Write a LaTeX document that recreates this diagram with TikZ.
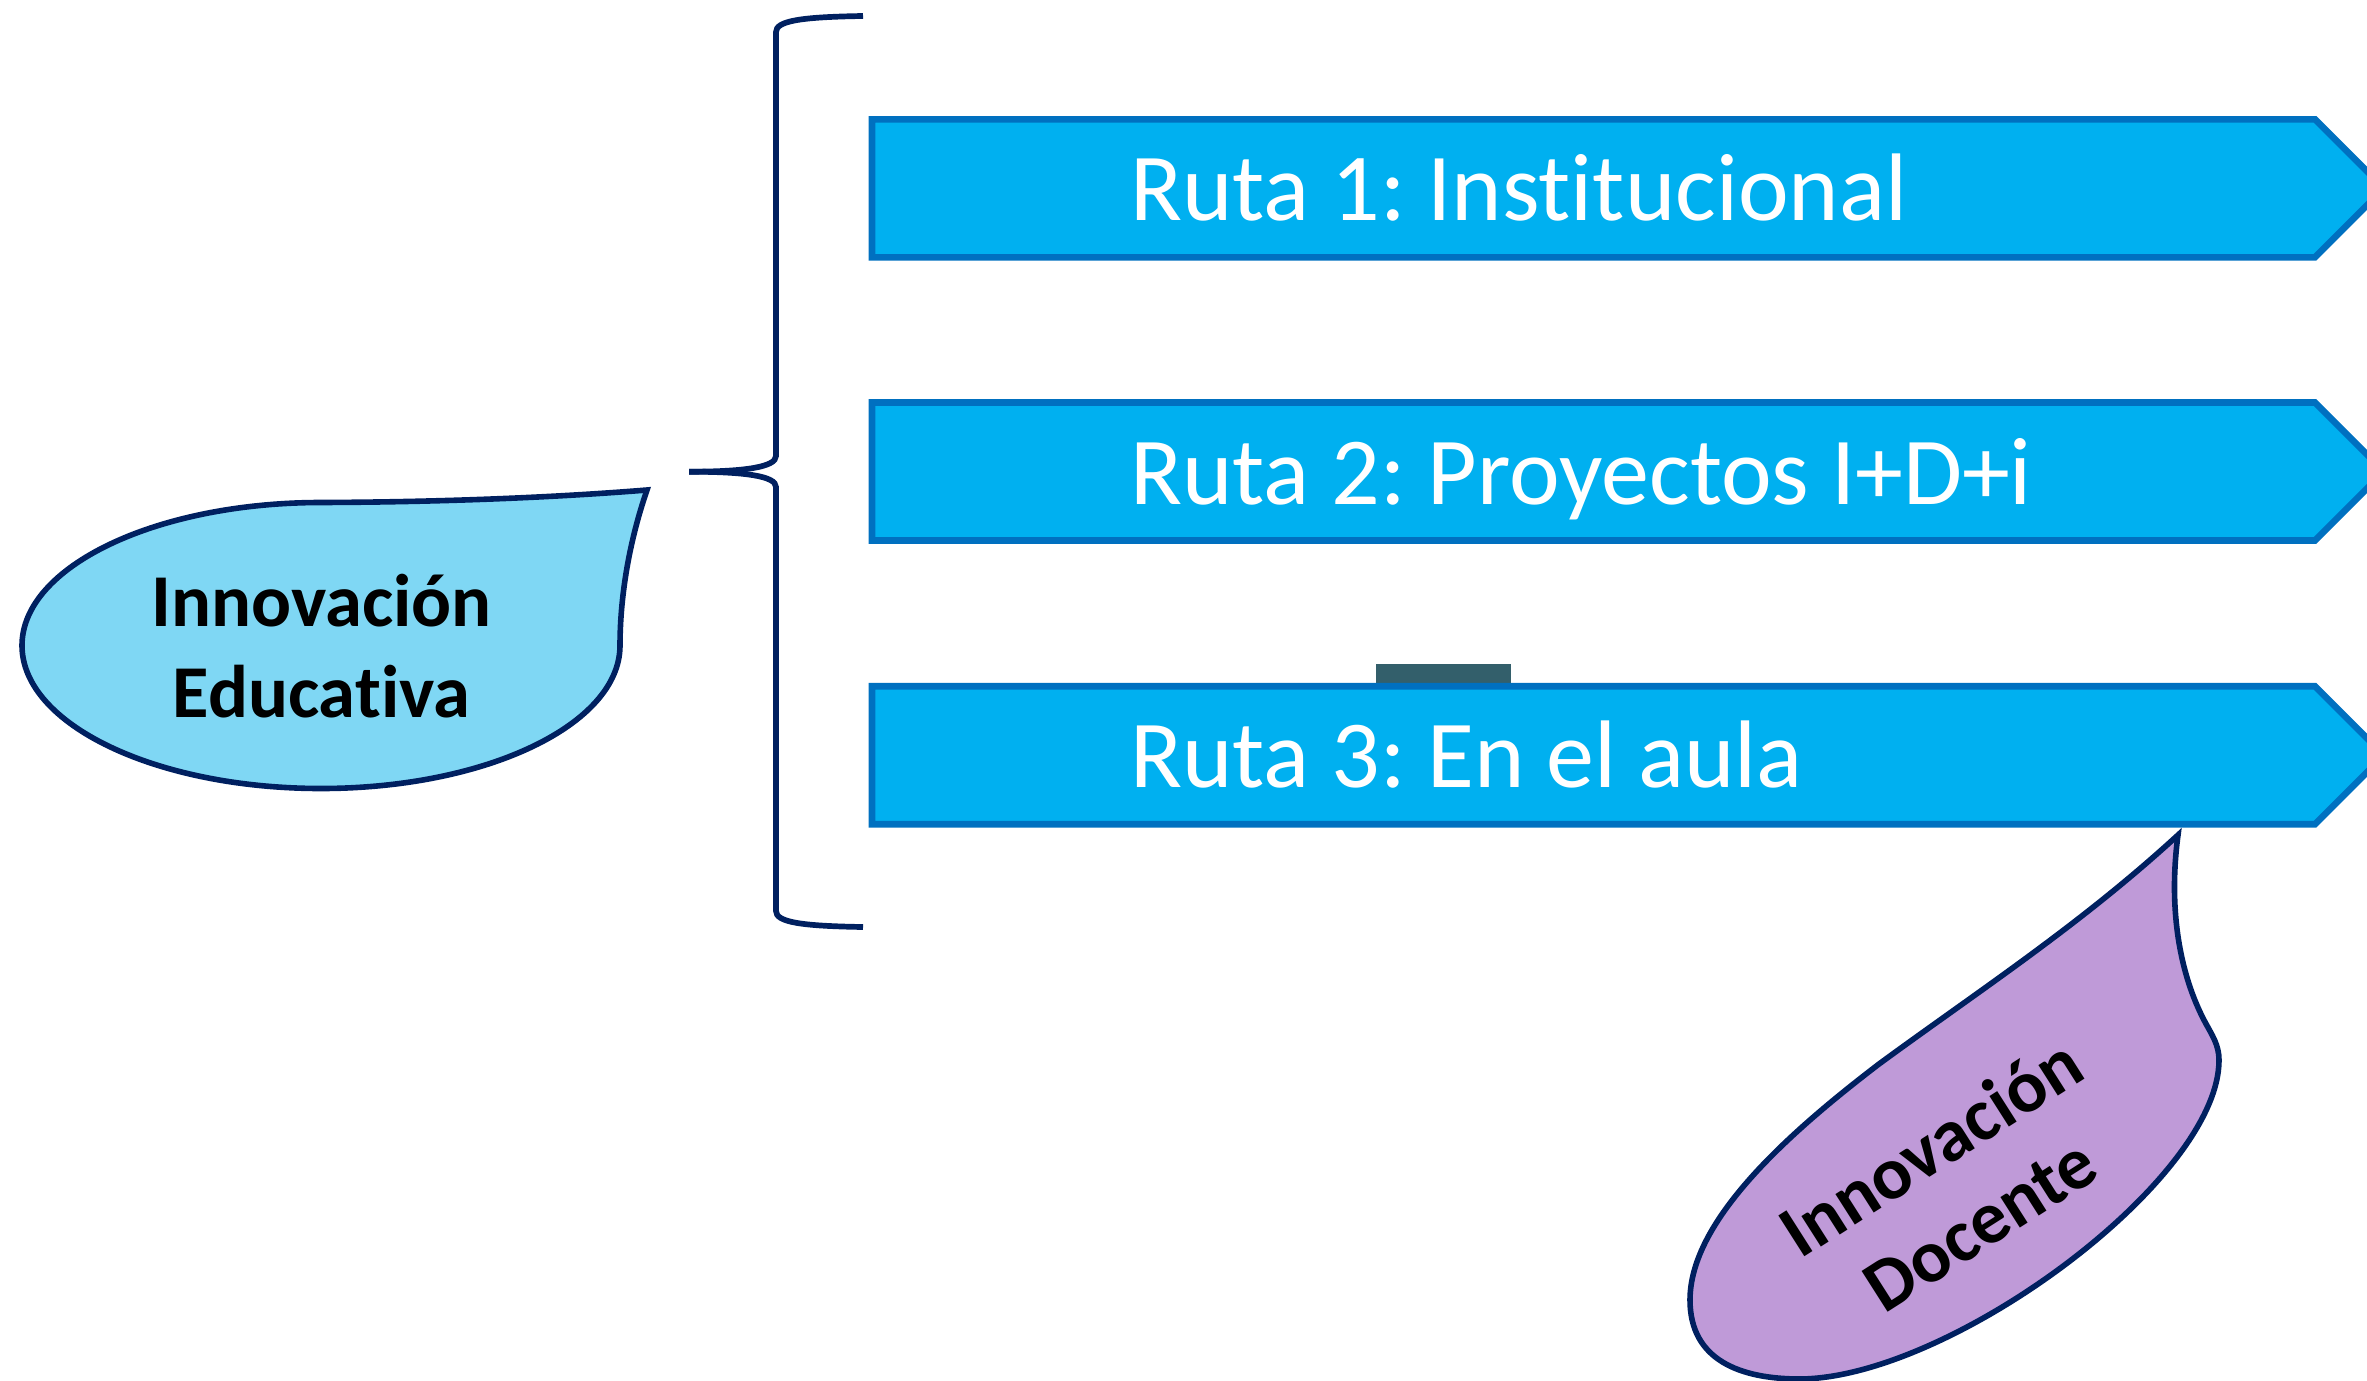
\documentclass[tikz,border=0pt]{standalone}
\usepackage{fontspec}
\setmainfont{Carlito}[Ligatures=NoCommon]
\frenchspacing
\definecolor{rutafill}{HTML}{00B0F0}
\definecolor{rutaline}{HTML}{0070C0}
\definecolor{navyline}{HTML}{002060}
\definecolor{bubbleblue}{HTML}{7FD7F4}
\definecolor{purplefill}{HTML}{BF9AD8}
\definecolor{slatebar}{HTML}{335F6B}
\begin{document}
\frenchspacing
\begin{tikzpicture}[x=0.5pt,y=-0.5pt,
  rutabox/.style={draw=rutaline, fill=rutafill, line width=3.3pt},
  rutatext/.style={text=white, font=\fontsize{48}{58}\selectfont, anchor=base west, inner sep=0pt},
  bracestyle/.style={draw=navyline, line width=2.85pt},
  bubble/.style={draw=navyline, line width=2.8pt},
  bubbletext/.style={font=\bfseries\fontsize{37.3}{45.5}\selectfont, align=center, inner sep=0pt, text=black}]
\useasboundingbox (0,0) rectangle (2367,1381);
\clip (0,0) rectangle (2367,1381);

% small dark bar above route 3
\fill[slatebar] (1376,664) rectangle (1511,684);

% route arrows
\foreach \n/\c/\lbl in {1/188.3/{Ruta 1: Institucional}, 2/471.5/{Ruta 2: Proyectos I+D+i}, 3/755.2/{Ruta 3: En el aula}} {
  \draw[rutabox] (872,\c-69) -- (2315,\c-69) -- (2384,\c) -- (2315,\c+69) -- (872,\c+69) -- cycle;
  \node[rutatext] (r\n) at (1130,\c+32.6) {\lbl};
}

% brace
\coordinate (bracetip) at (689,471.7);
\draw[bracestyle] (863,16) .. controls (800,17) and (776,21) .. (776,32) -- (776,456) .. controls (776,467) and (745,471.7) .. (bracetip);
\draw[bracestyle] (bracetip) .. controls (745,471.7) and (776,476) .. (776,487) -- (776,911) .. controls (776,922) and (800,926) .. (863,927);

% Innovacion Educativa callout
\filldraw[bubble, fill=bubbleblue] (321,502.5) .. controls (450,502) and (560,497) .. (647,490)
  .. controls (628,545) and (620,600) .. (620,645.5)
  .. controls (620,724.5) and (486,788.5) .. (321,788.5)
  .. controls (156,788.5) and (22,724.5) .. (22,645.5)
  .. controls (22,566.5) and (156,502.5) .. (321,502.5) -- cycle;
\node[bubbletext] (ie) at (321.5,646) {Innovación\\Educativa};

% Innovacion Docente callout
\filldraw[bubble, fill=purplefill] (2178,835) .. controls (2080,925) and (1980,990) .. (1879,1064)
  .. controls (1790,1132) and (1690,1220) .. (1690,1300)
  .. controls (1690,1360) and (1740,1379) .. (1800,1379)
  .. controls (1950,1378) and (2219,1180) .. (2219,1060)
  .. controls (2219,1045) and (2212,1035) .. (2205,1022)
  .. controls (2180,975) and (2168,910) .. (2178,835) -- cycle;
\node[bubbletext, rotate=32.5] (id) at (1955,1185) {Innovación\\Docente};
\end{tikzpicture}
\end{document}
